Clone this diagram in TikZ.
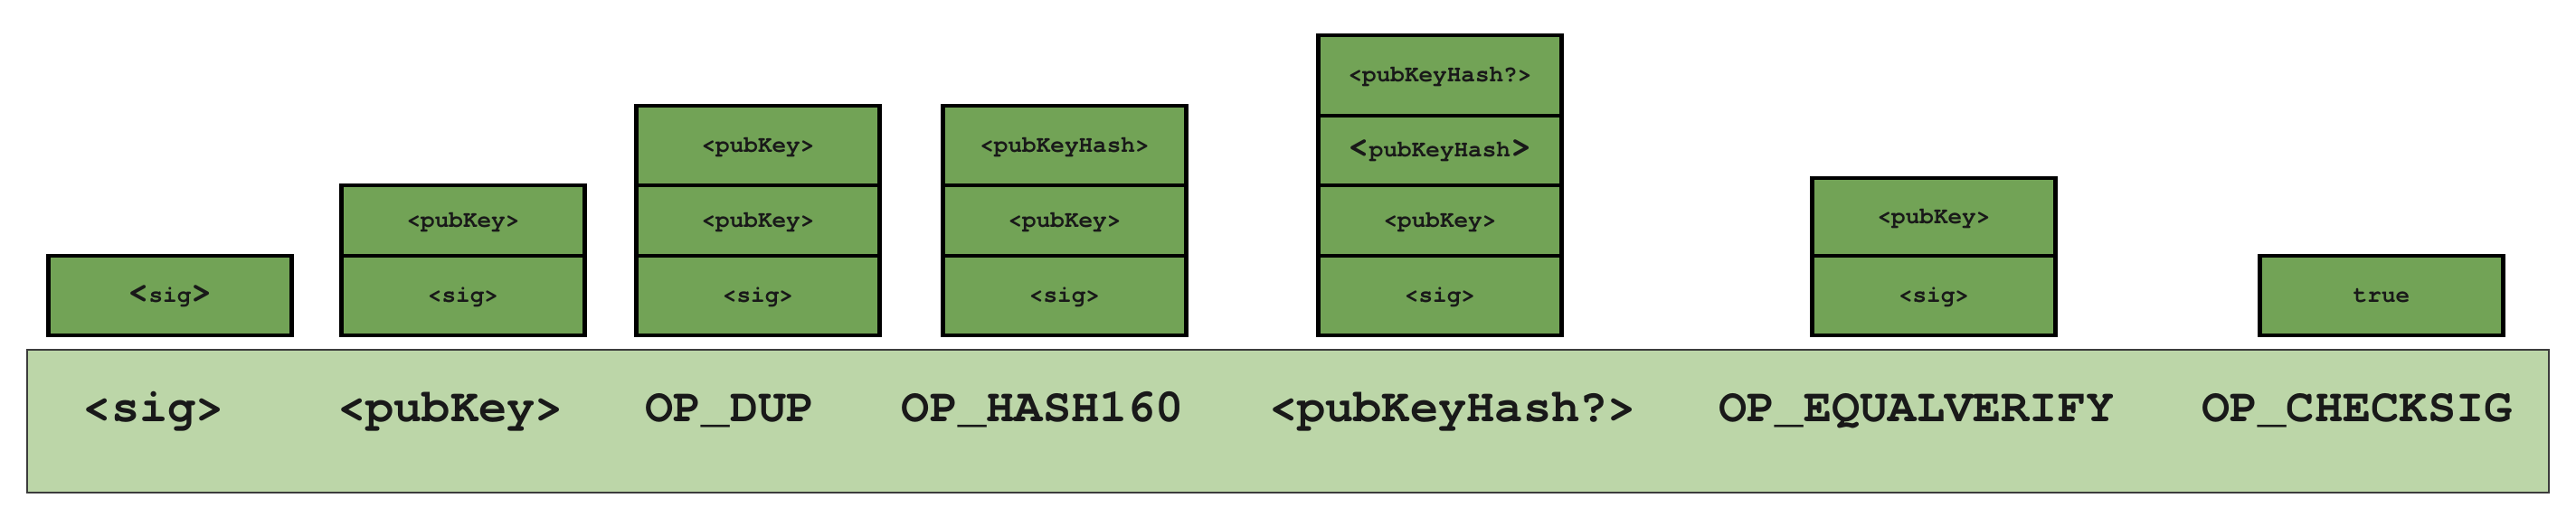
\documentclass[tikz,border=0pt]{standalone}
\usepackage{fontspec}
\setmonofont{texgyrecursor}[Extension=.otf, UprightFont=*-regular, BoldFont=*-bold]
\definecolor{boxgreen}{RGB}{114,163,86}
\definecolor{bargreen}{RGB}{188,214,168}
\definecolor{bardraw}{RGB}{60,60,60}
\definecolor{textdark}{RGB}{25,25,25}
\newcommand{\bigbr}[1]{{\fontsize{11}{11}\selectfont#1}}
\begin{document}
\begin{tikzpicture}[x=1cm,y=1cm,
  cell/.style={draw=black, line width=1.3pt, fill=boxgreen, minimum width=2.69cm,
    inner sep=0pt, text=textdark, text height=0.62em, text depth=0.2em,
    font=\ttfamily\bfseries\fontsize{7.4}{8}\selectfont},
  bar/.style={draw=bardraw, line width=0.7pt, fill=bargreen, inner sep=0pt},
  oplabel/.style={anchor=base, inner sep=0pt, text=textdark,
    font=\ttfamily\bfseries\fontsize{14.8}{16}\selectfont}]
\useasboundingbox (0,0) rectangle (28.48,5.72);
\fill[white] (0,0) rectangle (28.48,5.72);

% execution bar
\node[bar, minimum width=27.88cm, minimum height=1.58cm] (bar) at (14.24,1.06) {};
\node[oplabel] (l1) at (1.70,1.05) {<sig>};
\node[oplabel] (l2) at (4.98,1.05) {<pubKey>};
\node[oplabel] (l3) at (8.07,1.05) {OP\_DUP};
\node[oplabel] (l4) at (11.53,1.05) {OP\_HASH160};
\node[oplabel] (l5) at (16.06,1.05) {<pubKeyHash?>};
\node[oplabel] (l6) at (21.19,1.05) {OP\_EQUALVERIFY};
\node[oplabel] (l7) at (26.06,1.05) {OP\_CHECKSIG};

% column 1
\node[cell, minimum height=0.88cm] (c1a) at (1.88,2.45) {\bigbr{<}sig\bigbr{>}};
% column 2
\node[cell, minimum height=0.88cm] (c2a) at (5.12,2.45) {<sig>};
\node[cell, minimum height=0.78cm] (c2b) at (5.12,3.28) {<pubKey>};
% column 3
\node[cell, minimum height=0.88cm] (c3a) at (8.38,2.45) {<sig>};
\node[cell, minimum height=0.78cm] (c3b) at (8.38,3.28) {<pubKey>};
\node[cell, minimum height=0.88cm] (c3c) at (8.38,4.11) {<pubKey>};
% column 4
\node[cell, minimum height=0.88cm] (c4a) at (11.77,2.45) {<sig>};
\node[cell, minimum height=0.78cm] (c4b) at (11.77,3.28) {<pubKey>};
\node[cell, minimum height=0.88cm] (c4c) at (11.77,4.11) {<pubKeyHash>};
% column 5
\node[cell, minimum height=0.88cm] (c5a) at (15.92,2.45) {<sig>};
\node[cell, minimum height=0.78cm] (c5b) at (15.92,3.28) {<pubKey>};
\node[cell, minimum height=0.77cm] (c5c) at (15.92,4.055) {\bigbr{<}pubKeyHash\bigbr{>}};
\node[cell, minimum height=0.89cm] (c5d) at (15.92,4.885) {<pubKeyHash?>};
% column 6
\node[cell, minimum height=0.88cm] (c6a) at (21.38,2.45) {<sig>};
\node[cell, minimum height=0.86cm] (c6b) at (21.38,3.32) {<pubKey>};
% column 7
\node[cell, minimum height=0.88cm] (c7a) at (26.33,2.45) {true};
\end{tikzpicture}
\end{document}
